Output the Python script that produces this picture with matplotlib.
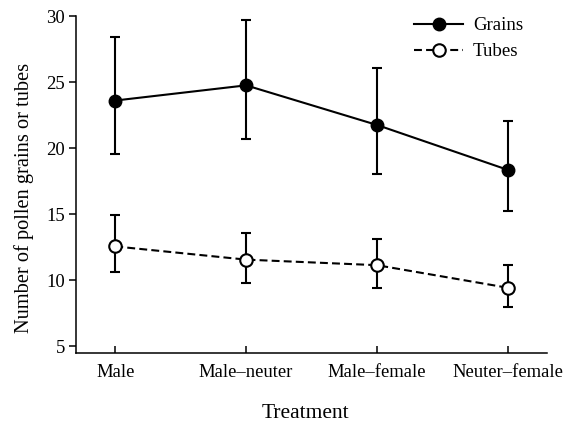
import numpy as np
import matplotlib.pyplot as plt

plt.rcParams['font.family'] = ['Liberation Serif', 'DejaVu Serif']

treatments = ["Male", "Male\u2013neuter", "Male\u2013female", "Neuter\u2013female"]

grains = [23.6, 24.75, 21.75, 18.35]
grains_hi = [28.45, 29.7, 26.05, 22.05]
grains_lo = [19.55, 20.65, 18.05, 15.25]

tubes = [12.55, 11.55, 11.13, 9.42]
tubes_hi = [14.9, 13.6, 13.1, 11.13]
tubes_lo = [10.6, 9.75, 9.38, 7.95]

x = np.arange(len(treatments))
g = np.array(grains)
t = np.array(tubes)
g_err = [g - np.array(grains_lo), np.array(grains_hi) - g]
t_err = [t - np.array(tubes_lo), np.array(tubes_hi) - t]

fig = plt.figure(figsize=(5.74, 4.22), dpi=100)
ax = fig.add_axes([0.1324, 0.1642, 0.8206, 0.7978])

lw = 1.5
ax.errorbar(x, g, yerr=g_err, color="black", linestyle="-", linewidth=lw,
            marker="o", markersize=9, markerfacecolor="black",
            capsize=3.3, capthick=lw, elinewidth=lw, label="Grains")
ax.errorbar(x, t, yerr=t_err, color="black", linestyle="--", linewidth=lw,
            dashes=(3.8, 2), marker="o", markersize=9, markerfacecolor="white",
            markeredgewidth=lw, capsize=3.3, capthick=lw, elinewidth=lw,
            label="Tubes")

ax.set_xlim(-0.3, 3.3)
ax.set_ylim(4.5, 30)
ax.set_yticks([5, 10, 15, 20, 25, 30])
ax.set_xticks(x)
ax.set_xticklabels(treatments)
ax.spines["top"].set_visible(False)
ax.spines["right"].set_visible(False)
ax.spines["left"].set_bounds(4.5, 30)
for s in ("left", "bottom"):
    ax.spines[s].set_linewidth(1.1)
ax.tick_params(axis="y", direction="out", length=5, width=1.1, labelsize=13.4, pad=3)
ax.tick_params(axis="x", direction="in", length=5, width=1.1, labelsize=13.4, pad=8)
ax.set_xlabel("Treatment", fontsize=15.5)
ax.set_ylabel("Number of pollen grains or tubes", fontsize=14.7)
ax.xaxis.set_label_coords(0.488, -0.152)
ax.yaxis.set_label_coords(-0.09, 0.46)

handles, labels = ax.get_legend_handles_labels()
handles = [h[0] for h in handles]
ax.legend(handles, labels, loc="upper right", bbox_to_anchor=(0.985, 1.047),
          frameon=False, fontsize=13.6, handlelength=2.6, handletextpad=0.5,
          labelspacing=0.45)

fig.savefig("out.png", dpi=100)
